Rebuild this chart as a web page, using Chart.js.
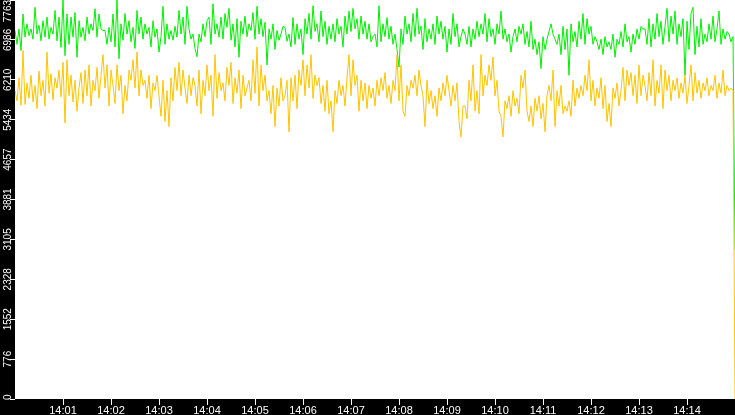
<!DOCTYPE html>
<html>
<head>
<meta charset="utf-8">
<script src="https://cdn.jsdelivr.net/npm/chart.js@4.4.1/dist/chart.umd.min.js"></script>
<style>
  html, body { margin: 0; padding: 0; background: #000; }
  canvas { display: block; }
</style>
</head>
<body>
<canvas id="load-chart" width="735" height="415"></canvas>
<script>
// Подписи оси времени (минуты после 14:00) и оси значений
const timeLabels = ['14:01', '14:02', '14:03', '14:04', '14:05', '14:06', '14:07',
                    '14:08', '14:09', '14:10', '14:11', '14:12', '14:13', '14:14'];
const timeSeconds = [60, 120, 180, 240, 300, 360, 420, 480, 540, 600, 660, 720, 780, 840];
const valueLabels = ['0', '776', '1552', '2328', '3105', '3881', '4657', '5434', '6210', '6986', '7763'];
const valueMax = 7763;
const sampleStep = 2.5; // секунд между отсчётами

// Зелёная серия
const greenValues = [
  7170, 6900, 7200, 6780, 7490, 7040, 7300, 7070, 7200, 7000, 7620, 7100, 7270, 6970, 7360, 7040, 7430, 7000, 7230, 7100,
  7560, 6970, 7430, 6840, 7763, 6680, 7490, 6900, 7430, 7040, 7520, 6650, 7360, 7040, 7230, 6970, 7430, 7100, 7300, 7170,
  7590, 7040, 7490, 7200, 7170,
  7170, 6900, 7230, 6950, 7490, 6850, 7763, 6620, 7300, 6980, 7500, 7100, 7360, 6950, 7230, 6820, 7560, 7100, 7430, 7000,
  7300, 7100, 7230, 6850, 7360, 7040, 7200, 6750, 7050, 7640, 6900, 7300, 7000, 7170, 6980, 7250, 7040, 7560, 7100, 7430,
  6900, 7640, 7200, 7000, 7100,
  6820, 6660, 7100, 6950, 7300, 7050, 7360, 7430, 6900, 7690, 7100, 7300, 7040, 7430, 7000, 7500, 7230, 7600, 6980, 7300,
  6850, 7400, 6650, 7350, 7100, 7450, 7050, 7300, 7170, 7520, 7000, 7640, 7100, 7400, 7050, 7330, 6500, 7200, 7000, 7300,
  6800, 7170, 6980, 7100, 7250,
  7230, 6960, 7100, 6850, 7420, 6900, 7300, 7000, 7200, 6700, 7400, 7100, 7500, 7000, 7650, 7150, 7300, 6950, 7550, 7050,
  7350, 6900, 7250, 7000, 7300, 6950, 7400, 7100, 7250, 6850, 7450, 7100, 7550, 7150, 7600, 7200, 7400, 7000, 7450, 7100,
  7350, 7000, 7300, 6950, 7050,
  7100, 6850, 7650, 6950, 7300, 7050, 7420, 7000, 7250, 6900, 7100, 6800, 6460, 7200, 6900, 7450, 7100, 7300, 6950, 7500,
  7050, 7600, 7100, 7250, 6800, 7400, 6950, 7200, 7000, 7300, 6900, 7450, 7100, 7350, 7000, 7250, 6750, 7200, 6900, 7500,
  7050, 7300, 6850, 7050, 7200,
  7100, 6900, 7250, 6850, 7200, 7000, 7350, 7050, 7300, 7100, 7500, 6950, 7400, 7050, 7200, 6900, 7300, 7100, 7550, 7000,
  7200, 6950, 7100, 6750, 7050, 7200, 6950, 7250, 7100, 7300, 6900, 7150, 6850, 7350, 6800, 7000, 6700, 6950, 6430, 7050,
  6800, 7000, 7150, 7300, 7100,
  7000, 6900, 7100, 6700, 7250, 6800, 7200, 6300, 7300, 6950, 7150, 6850, 7350, 7000, 7500, 6900, 7400, 7100, 7250, 6900,
  7050, 6950, 6800, 7000, 6700, 7050, 6850, 6950, 6800, 7100, 6650, 7000, 6900, 7150, 6850, 7300, 6950, 7050, 6750, 7100,
  6900, 7200, 7000, 7250, 7200,
  7200, 6900, 7400, 6850, 7300, 7000, 7500, 7050, 7350, 6900, 7250, 7600, 6950, 7450, 7100, 7550, 6900, 7300, 7050, 7400,
  6300, 7350, 6800, 7500, 7620, 6700, 7250, 6850, 7400, 6900, 7100, 6950, 7300, 7000, 7450, 6950, 7200, 7550, 6900, 7200,
  7000, 7150, 7100, 6950, 7050,
  2900
];

// Жёлтая серия
const yellowValues = [
  6000, 5800, 6250, 5720, 6780, 5730, 6150, 5850, 6300, 5780, 6100, 5650, 6380, 5900, 6200, 5700, 6750, 5950, 6330, 5820,
  6250, 6050, 6400, 5880, 6550, 5370, 6600, 5900, 6300, 5780, 6200, 5600, 6050, 6350, 5750, 6400, 5900, 6500, 5700, 6200,
  6000, 6450, 5850, 6300, 6700,
  6050, 6500, 5700, 6400, 6100, 5750, 6500, 6000, 6300, 5550, 6100, 5800, 6400, 6200, 6600, 6050, 6750, 5900, 6400, 6100,
  6200, 5850, 6300, 5650, 6150, 6000, 6300, 5900, 5500, 6200, 5400, 6000, 5300, 6250, 5800, 6450, 6000, 6550, 5900, 6400,
  6050, 5750, 6300, 5900, 6250,
  6100, 5700, 6400, 5550, 6200, 5900, 6500, 6000, 6300, 5500, 6700, 5850, 6350, 6000, 6150, 5800, 6450, 6100, 6550, 5750,
  6250, 5950, 6400, 5650, 6300, 5900, 6050, 6200, 5800, 6600, 5950, 6850, 5700, 6500, 6000, 6300, 5800, 6000, 5550, 6100,
  5300, 6050, 5700, 6250, 5800,
  5900, 6200, 5200, 6250, 5800, 6300, 5650, 6400, 6100, 6600, 5900, 6500, 6050, 6700, 5850, 6300, 6100, 6250, 5750, 6100,
  5600, 6200, 5550, 5800, 5200, 6000, 5750, 6200, 5900, 6100, 5700, 6250, 6700, 5900, 6600, 6100, 6300, 5600, 6200, 5800,
  6150, 5650, 6100, 5850, 6050,
  5700, 6200, 5900, 6250, 6000, 6350, 5850, 6100, 5750, 6200, 6000, 6700, 5800, 6500, 5600, 5500, 6100, 5900, 6200, 6050,
  6300, 5900, 6400, 6100, 5900, 5300, 6200, 5750, 6000, 5650, 5900, 5500, 6050, 5800, 6150, 5900, 6300, 6000, 5700, 6100,
  5800, 6150, 5400, 5100, 5700,
  5700, 5450, 6200, 5800, 6500, 5600, 6000, 5550, 6700, 5900, 6300, 6100, 6500, 6200, 6650, 5900, 6200, 5600, 5500, 5100,
  5800, 5650, 5900, 5500, 6000, 5700, 5850, 5550, 6300, 6050, 6400, 5600, 5400, 5700, 5300, 5850, 5600, 5900, 5450, 5750,
  5200, 5900, 6100, 5800, 6400,
  5300, 6000, 5700, 6100, 5550, 5700, 5600, 5800, 5500, 6200, 5700, 6050, 5850, 6100, 5900, 6300, 6000, 6600, 5800, 6200,
  5700, 6050, 5850, 6250, 5650, 6100, 5400, 5750, 5300, 6050, 5850, 6150, 5700, 6000, 6450, 5800, 6400, 6100, 6350, 5900,
  6300, 5750, 6500, 5900, 6300,
  6100, 5800, 6350, 5900, 6600, 5700, 6200, 5950, 6500, 5650, 6400, 6000, 6300, 5800, 6200, 6000, 6250, 5850, 6150, 5950,
  6300, 5750, 6100, 6500, 5800, 6350, 5950, 6200, 5850, 6150, 6000, 6250, 5900, 6100, 6000, 6300, 5850, 6150, 5950, 6400,
  5900, 6100, 6000, 6050, 6000,
  0
];

function toPoints(values) {
    return values.map((v, i) => ({ x: i * sampleStep, y: v }));
}

const timeFont = '11px "Liberation Sans"';
const valueFont = '10px "Liberation Sans"';

// Чёрный фон, белая область графика и подписи осей
const framePlugin = {
    id: 'frame',
    beforeDraw(chart) {
        const ctx = chart.ctx;
        const a = chart.chartArea;
        ctx.save();
        ctx.fillStyle = '#000000';
        ctx.fillRect(0, 0, chart.width, chart.height);
        ctx.fillStyle = '#ffffff';
        ctx.fillRect(a.left, a.top, a.right - a.left, a.bottom - a.top);
        ctx.restore();
    },
    afterDraw(chart) {
        const ctx = chart.ctx;
        const a = chart.chartArea;
        const xs = chart.scales.x;
        const ys = chart.scales.y;
        ctx.save();
        ctx.fillStyle = '#ffffff';

        // подписи времени
        ctx.font = timeFont;
        ctx.textAlign = 'center';
        ctx.textBaseline = 'alphabetic';
        timeSeconds.forEach((s, i) => {
            ctx.fillText(timeLabels[i], Math.round(xs.getPixelForValue(s)), chart.height - 1);
        });

        // подписи значений, повёрнутые на 90°
        ctx.font = valueFont;
        valueLabels.forEach((label, i) => {
            const w = ctx.measureText(label).width;
            let y = ys.getPixelForValue(i * valueMax / 10);
            y = Math.min(Math.max(y, a.top + w / 2), a.bottom - w / 2 + 1);
            ctx.save();
            ctx.translate(a.left - 4, y);
            ctx.rotate(-Math.PI / 2);
            ctx.fillText(label, 0, 0);
            ctx.restore();
        });
        ctx.restore();
    }
};

const ctx = document.getElementById('load-chart').getContext('2d');
new Chart(ctx, {
    type: 'line',
    data: {
        datasets: [{
            data: toPoints(yellowValues),
            borderColor: '#ffc400',
            borderWidth: 1,
            pointRadius: 0,
            tension: 0,
            clip: { left: 0, top: 0, right: 2, bottom: 0 }
        }, {
            data: toPoints(greenValues),
            borderColor: '#00f000',
            borderWidth: 1,
            pointRadius: 0,
            tension: 0,
            clip: { left: 0, top: 0, right: 2, bottom: 0 }
        }]
    },
    options: {
        responsive: false,
        animation: false,
        devicePixelRatio: 1,
        layout: { padding: 0 },
        plugins: {
            legend: { display: false },
            tooltip: { enabled: false }
        },
        scales: {
            x: {
                type: 'linear',
                min: 0,
                max: 900,
                afterBuildTicks: (scale) => { scale.ticks = timeSeconds.map(v => ({ value: v })); },
                afterFit: (scale) => { scale.height = 16; },
                ticks: { display: false },
                grid: { drawOnChartArea: false, drawTicks: true, tickLength: 6, color: '#ffffff', lineWidth: 1 },
                border: { display: false }
            },
            y: {
                min: 0,
                max: valueMax,
                afterBuildTicks: (scale) => { scale.ticks = valueLabels.map((l, i) => ({ value: i * valueMax / 10 })); },
                afterFit: (scale) => { scale.width = 15; },
                ticks: { display: false },
                grid: { drawOnChartArea: false, drawTicks: true, tickLength: 5, color: '#ffffff', lineWidth: 1 },
                border: { display: false }
            }
        }
    },
    plugins: [framePlugin]
});
</script>
</body>
</html>
